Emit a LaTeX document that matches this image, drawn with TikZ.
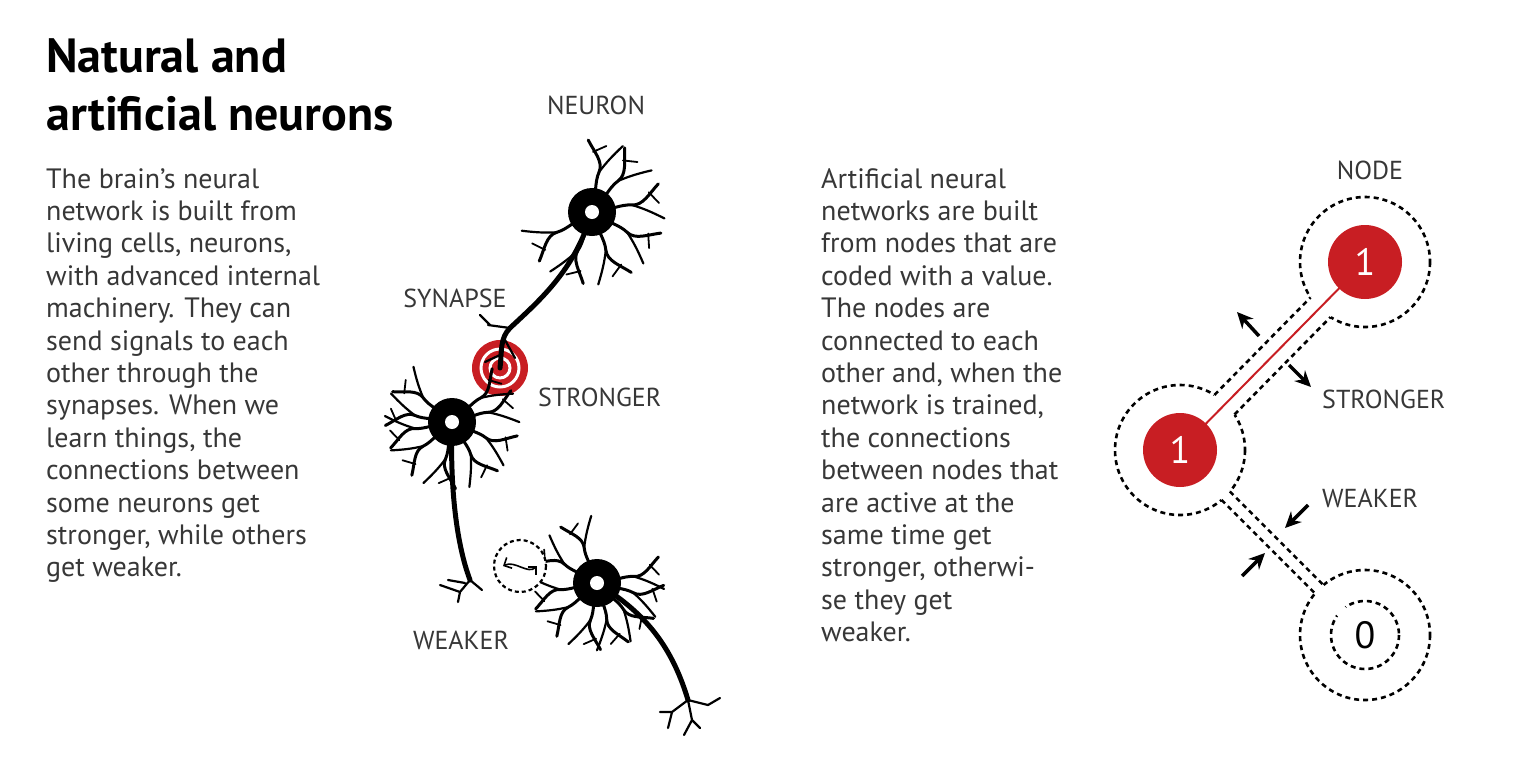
\documentclass[tikz,border=0pt]{standalone}
\usepackage{fontspec}
\setmainfont{PT Sans}
\usetikzlibrary{arrows.meta}
\definecolor{nred}{RGB}{200,30,35}
\definecolor{ntext}{RGB}{55,55,55}
\tikzset{
  dend/.pic={\draw[line width=3,line cap=round] (0,0) .. controls (14,1) and (22,-2) .. (30,0)
       .. controls (38,2) and (44,-6) .. (52,-12);
     \draw[line width=2.2,line cap=round] (30,0) .. controls (38,4) and (44,8) .. (52,14);
     \draw[line width=1.8,line cap=round] (44,-7) -- (50,2);},
  soma/.style={fill=black},
  lbl/.style={font=\fontsize{26}{28}\selectfont,text=ntext,inner sep=0},
  body/.style={font=\fontsize{28}{32.4}\selectfont,text=ntext,align=left,anchor=north west,inner sep=0},
  dsh/.style={line width=2.6,dash pattern=on 5pt off 4pt},
  sarr/.style={-{Stealth[length=16pt,width=15pt]},line width=3.5},
}
\begin{document}
\begin{tikzpicture}[x=1pt,y=-1pt]
\useasboundingbox (0,0) rectangle (1528,774);
\node[font=\bfseries\fontsize{48}{58}\selectfont,align=left,anchor=north west,inner sep=0] (title) at (46,38) {Natural and\\artificial neurons};
\node[body] (ltext) at (46,168) {The brain’s neural\\network is built from\\living cells, neurons,\\with advanced internal\\machinery. They can\\send signals to each\\other through the\\synapses. When we\\learn things, the\\connections between\\some neurons get\\stronger, while others\\get weaker.};
\node[body] (rtext) at (821,168) {Artificial neural\\networks are built\\from nodes that are\\coded with a value.\\The nodes are\\connected to each\\other and, when the\\network is trained,\\the connections\\between nodes that\\are active at the\\same time get\\stronger, otherwi-\\se they get\\weaker.};
% labels
\node[lbl] (lneuron) at (596,105) {NEURON};
\node[lbl] (lsyn) at (455,298) {SYNAPSE};
\node[lbl,anchor=west] (lstr) at (538,397) {STRONGER};
\node[lbl] (lweak) at (461,640) {WEAKER};
% red synapse target
\fill[nred] (500,368) circle (28);
\draw[white,line width=3] (500,368) circle (19);
\draw[white,line width=3] (500,368) circle (10);
% neuron 1
\foreach \a in {-150,-110,-70,-30,10,50,80}{\pic[rotate=\a,scale=1.35] at (592,212) {dend};}
\fill[soma] (592,212) circle (24);
\draw[line width=5,line cap=round] (592,212) .. controls (575,270) and (540,300) .. (510,328) .. controls (500,338) and (502,350) .. (500,368);
\draw[line width=2.2,line cap=round] (510,328) -- (488,325) (490,325) -- (480,315) (505,340) -- (515,358) (500,355) -- (485,362);
% neuron 2
\foreach \a in {-170,-140,-100,-60,-25,15,40,140,170}{\pic[rotate=\a,scale=1.25] at (452,422) {dend};}
\fill[soma] (452,422) circle (24);
\draw[line width=5,line cap=round] (452,422) .. controls (450,480) and (455,540) .. (470,580);
\draw[line width=2.2,line cap=round] (470,580) -- (460,592) -- (440,585) (460,592) -- (458,602) (470,580) -- (482,590) (465,583) -- (448,580);
% neuron 3
\foreach \a in {-170,-140,-100,-75,-45,-15,10,110,150}{\pic[rotate=\a,scale=1.25] at (597,583) {dend};}
\fill[soma] (597,583) circle (24);
\draw[line width=5,line cap=round] (597,583) .. controls (640,610) and (670,640) .. (688,700);
\draw[line width=2.2,line cap=round] (688,700) -- (672,712) -- (660,712) (672,712) -- (668,728) (688,700) -- (692,720) -- (684,735) (692,720) -- (700,728) (688,700) -- (708,705) -- (720,698);
\fill[white] (592,212) circle (7) (452,422) circle (7) (597,583) circle (7);
% weaker dashed circle
\draw[line width=2.2,dash pattern=on 4pt off 3pt,fill=white] (520,566) circle (26);
\draw[line width=1.6,<->,>={Straight Barb[length=6pt]}] (503,566) .. controls (515,560) and (528,575) .. (537,566);
% ===== artificial nodes =====
\coordinate (cA) at (1365,262);
\coordinate (cB) at (1180,450);
\coordinate (cC) at (1365,635);
\draw[dsh] (cA) circle (65);
\draw[dsh] (cB) circle (65);
\draw[dsh] (cC) circle (65);
\draw[dsh] (cC) circle (34);
% gaps
\fill[white] (1190,459.8) -- (1375,271.8) -- (1355,252.2) -- (1170,440.2) -- cycle;
\fill[white] (1184.2,445.8) -- (1369.2,630.8) -- (1360.8,639.2) -- (1175.8,454.2) -- cycle;
% connection dashed lines
\draw[dsh] (1234.5,414.5) -- (1330.5,317.1) (1214.5,394.9) -- (1310.5,297.5);
\draw[dsh] (1229.9,491.5) -- (1323.5,585.1) (1221.5,499.9) -- (1315.1,593.5);
\draw[nred,line width=2] (cB) -- (cA);
\node[circle,fill=nred,minimum size=74,inner sep=0,text=white,font=\fontsize{38}{38}\selectfont] (nA) at (cA) {1};
\node[circle,fill=nred,minimum size=74,inner sep=0,text=white,font=\fontsize{38}{38}\selectfont] (nB) at (cB) {1};
\node[inner sep=0,font=\fontsize{38}{38}\selectfont,text=black] (nC) at (cC) {0};
\node[lbl] (lnode) at (1370,170) {NODE};
\node[lbl,anchor=west] (lstr2) at (1322,399) {STRONGER};
\node[lbl,anchor=west] (lweak2) at (1322,498) {WEAKER};
\coordinate (a1s) at (1259,336); \coordinate (a1e) at (1237,312);
\coordinate (a2s) at (1289,365); \coordinate (a2e) at (1311,387);
\coordinate (a3s) at (1308,505); \coordinate (a3e) at (1285,528);
\coordinate (a4s) at (1242,576); \coordinate (a4e) at (1265,553);
\draw[sarr] (a1s) -- (a1e);
\draw[sarr] (a2s) -- (a2e);
\draw[sarr] (a3s) -- (a3e);
\draw[sarr] (a4s) -- (a4e);
\end{tikzpicture}
\end{document}
